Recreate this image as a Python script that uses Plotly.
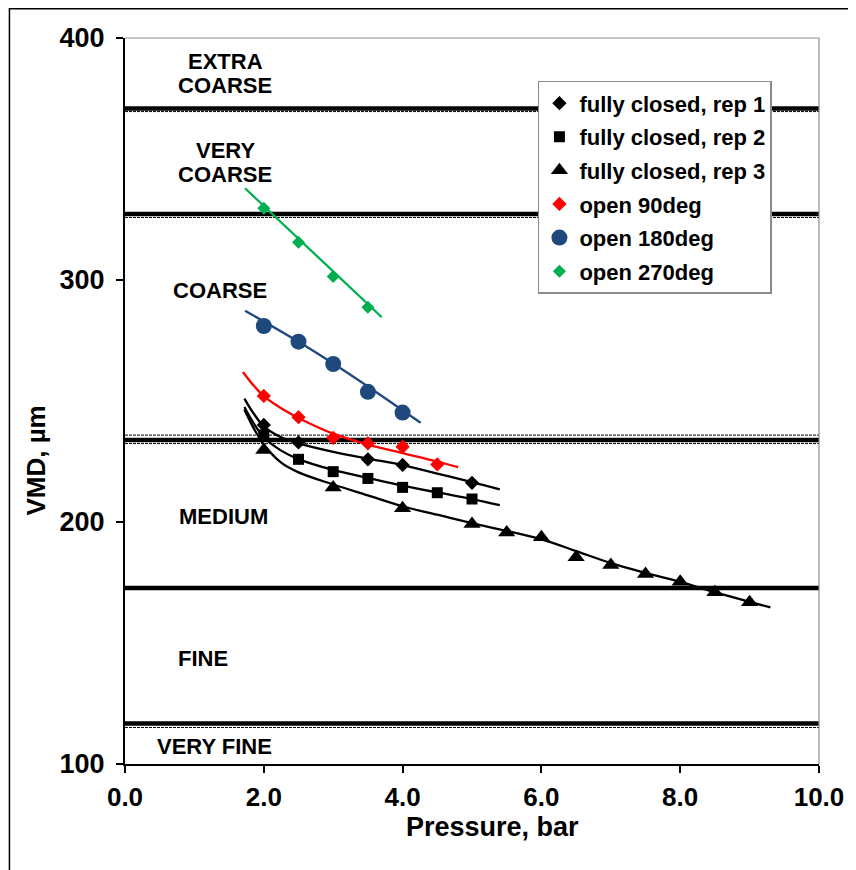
import plotly.graph_objects as go

# ---- data ----
rep1_x = [2.0, 2.5, 3.5, 4.0, 5.0]
rep1_y = [240.1, 232.9, 225.9, 223.6, 216.2]
rep2_x = [2.0, 2.5, 3.0, 3.5, 4.0, 4.5, 5.0]
rep2_y = [236.0, 225.9, 220.8, 218.0, 214.3, 212.1, 209.5]
rep3_x = [2.0, 3.0, 4.0, 5.0, 5.5, 6.0, 6.5, 7.0, 7.5, 8.0, 8.5, 9.0]
rep3_y = [229.8, 214.3, 205.7, 199.2, 195.7, 193.7, 185.4, 182.2, 178.5, 175.3, 171.0, 166.8]
o90_x = [2.0, 2.5, 3.0, 3.5, 4.0, 4.5]
o90_y = [252.1, 243.3, 234.8, 232.5, 231.1, 223.8]
o180_x = [2.0, 2.5, 3.0, 3.5, 4.0]
o180_y = [281.0, 274.5, 265.3, 253.8, 245.2]
o270_x = [2.0, 2.5, 3.0, 3.5]
o270_y = [329.6, 315.6, 301.4, 288.7]

# trend lines
t1_x = [1.72, 1.85, 2.0, 2.25, 2.5, 3.0, 3.5, 4.0, 4.5, 5.0, 5.4]
t1_y = [251.0, 245.0, 239.5, 235.0, 232.5, 229.0, 226.2, 223.5, 220.0, 216.5, 213.5]
t2_x = [1.72, 1.85, 2.0, 2.25, 2.5, 3.0, 3.5, 4.0, 4.5, 5.0, 5.4]
t2_y = [247.5, 241.0, 235.0, 229.5, 226.0, 221.5, 218.2, 215.0, 212.2, 209.5, 207.0]
t3_x = [1.72, 1.85, 2.0, 2.25, 2.5, 3.0, 3.5, 4.0, 4.5, 5.0, 5.5, 6.0, 6.5, 7.0, 7.5, 8.0, 8.5, 9.0, 9.3]
t3_y = [246.5, 239.0, 232.0, 224.5, 220.5, 215.5, 211.0, 206.5, 203.0, 199.5, 196.3, 192.8, 188.0, 183.0, 179.0, 175.3, 171.0, 167.0, 164.7]
t90_x = [1.7, 1.85, 2.0, 2.25, 2.5, 3.0, 3.5, 4.0, 4.5, 4.8]
t90_y = [262.0, 256.5, 252.0, 247.0, 243.0, 236.5, 232.0, 228.5, 225.0, 222.7]
t180_x = [1.73, 2.5, 3.0, 3.5, 4.26]
t180_y = [287.3, 274.5, 265.5, 256.0, 241.0]
t270_x = [1.73, 3.70]
t270_y = [337.9, 284.6]

# droplet class boundaries
class_lines = [116.7, 172.7, 233.9, 327.3, 370.9]
class_dashed = [115.1, 232.4, 235.9, 325.8, 369.6]
# class label text lines
label_text = ["VERY FINE", "FINE", "MEDIUM", "COARSE", "VERY", "COARSE", "EXTRA", "COARSE"]
label_x = [1.29, 1.12, 1.42, 1.37, 1.445, 1.445, 1.445, 1.445]
label_y = [107.4, 143.4, 202.1, 295.5, 353.7, 343.4, 390.1, 380.2]

x_ticks = [0, 2, 4, 6, 8, 10]
x_ticktext = ["0.0", "2.0", "4.0", "6.0", "8.0", "10.0"]
y_ticks = [100, 200, 300, 400]

BLACK = "#000000"
RED = "#FF0000"
BLUE = "#1F497D"
GREEN = "#00B050"

fig = go.Figure()

# trend lines first (under markers)
for tx, ty, col in [(t1_x, t1_y, BLACK), (t2_x, t2_y, BLACK), (t3_x, t3_y, BLACK),
                    (t90_x, t90_y, RED), (t180_x, t180_y, BLUE), (t270_x, t270_y, GREEN)]:
    fig.add_trace(go.Scatter(x=tx, y=ty, mode="lines", line=dict(color=col, width=2.3, shape="spline"),
                             showlegend=False, hoverinfo="skip"))

series = [
    ("fully closed, rep 1", rep1_x, rep1_y, "diamond", BLACK, 11),
    ("fully closed, rep 2", rep2_x, rep2_y, "square", BLACK, 11),
    ("fully closed, rep 3", rep3_x, rep3_y, "triangle-up", BLACK, 15),
    ("open 90deg", o90_x, o90_y, "diamond", RED, 11),
    ("open 180deg", o180_x, o180_y, "circle", BLUE, 16),
    ("open 270deg", o270_x, o270_y, "diamond", GREEN, 10),
]
for i, (name, sx, sy, sym, col, sz) in enumerate(series):
    fig.add_trace(go.Scatter(x=sx, y=sy, mode="markers", name=name, legendgroup=f"g{i}",
                             marker=dict(symbol=sym, color=col, size=sz, line=dict(width=0))))

shapes = []
for v in class_lines:
    shapes.append(dict(type="line", xref="x", yref="y", x0=0, x1=10, y0=v, y1=v,
                       line=dict(color=BLACK, width=4.5), layer="below"))
for v in class_dashed:
    shapes.append(dict(type="line", xref="x", yref="y", x0=0, x1=10, y0=v, y1=v,
                       line=dict(color=BLACK, width=1, dash="3px,1px"), layer="below"))
# plot area top/right border (gray)
shapes.append(dict(type="line", xref="paper", yref="paper", x0=0, x1=1, y0=1, y1=1,
                   line=dict(color="#8C8C8C", width=1.2)))
shapes.append(dict(type="line", xref="paper", yref="paper", x0=1, x1=1, y0=0, y1=1,
                   line=dict(color="#8C8C8C", width=1.2)))
# outer chart border
shapes.append(dict(type="rect", xref="paper", yref="paper", x0=-0.1665, x1=1.066, y0=-0.16, y1=1.0403,
                   line=dict(color=BLACK, width=1.5), fillcolor="rgba(0,0,0,0)"))

annotations = []
for name, ax, ay in zip(label_text, label_x, label_y):
    annotations.append(dict(x=ax, y=ay, xref="x", yref="y", text=name, showarrow=False,
                            xanchor="center", yanchor="middle",
                            font=dict(size=22, color=BLACK, weight="bold"), align="center"))
annotations.append(dict(x=-0.1288, y=0.4174, xref="paper", yref="paper", text="VMD, µm", textangle=-90,
                        xanchor="center", yanchor="middle",
                        showarrow=False, font=dict(size=26, color=BLACK, weight="bold")))
annotations.append(dict(x=0.5293, y=-0.087, xref="paper", yref="paper", text="Pressure, bar",
                        xanchor="center", yanchor="middle",
                        showarrow=False, font=dict(size=27, color=BLACK, weight="bold")))

fig.update_layout(
    width=848, height=862,
    margin=dict(l=117, r=32, t=30, b=106),
    paper_bgcolor="white", plot_bgcolor="white",
    font=dict(family="Liberation Sans, Arial, sans-serif", color=BLACK, weight="bold"),
    showlegend=True,
    legend=dict(x=0.595, y=0.941, xanchor="left", yanchor="top",
                bgcolor="white", bordercolor="#8C8C8C", borderwidth=1.5,
                font=dict(size=22, color=BLACK, weight="bold"), tracegroupgap=2,
                itemsizing="trace"),
    shapes=shapes, annotations=annotations,
)
fig.update_xaxes(range=[0, 10], tickvals=x_ticks, ticktext=x_ticktext, showgrid=False, zeroline=False,
                 showline=True, linecolor=BLACK, linewidth=2, ticks="outside", ticklen=7, tickwidth=2,
                 tickcolor=BLACK, tickfont=dict(size=26, weight="bold"), ticklabelstandoff=2)
fig.update_yaxes(range=[100, 400], tickvals=y_ticks, showgrid=False, zeroline=False,
                 showline=True, linecolor=BLACK, linewidth=2, ticks="outside", ticklen=7, tickwidth=2,
                 tickcolor=BLACK, tickfont=dict(size=27, weight="bold"), ticklabelstandoff=6)

fig.write_html("out.html")
